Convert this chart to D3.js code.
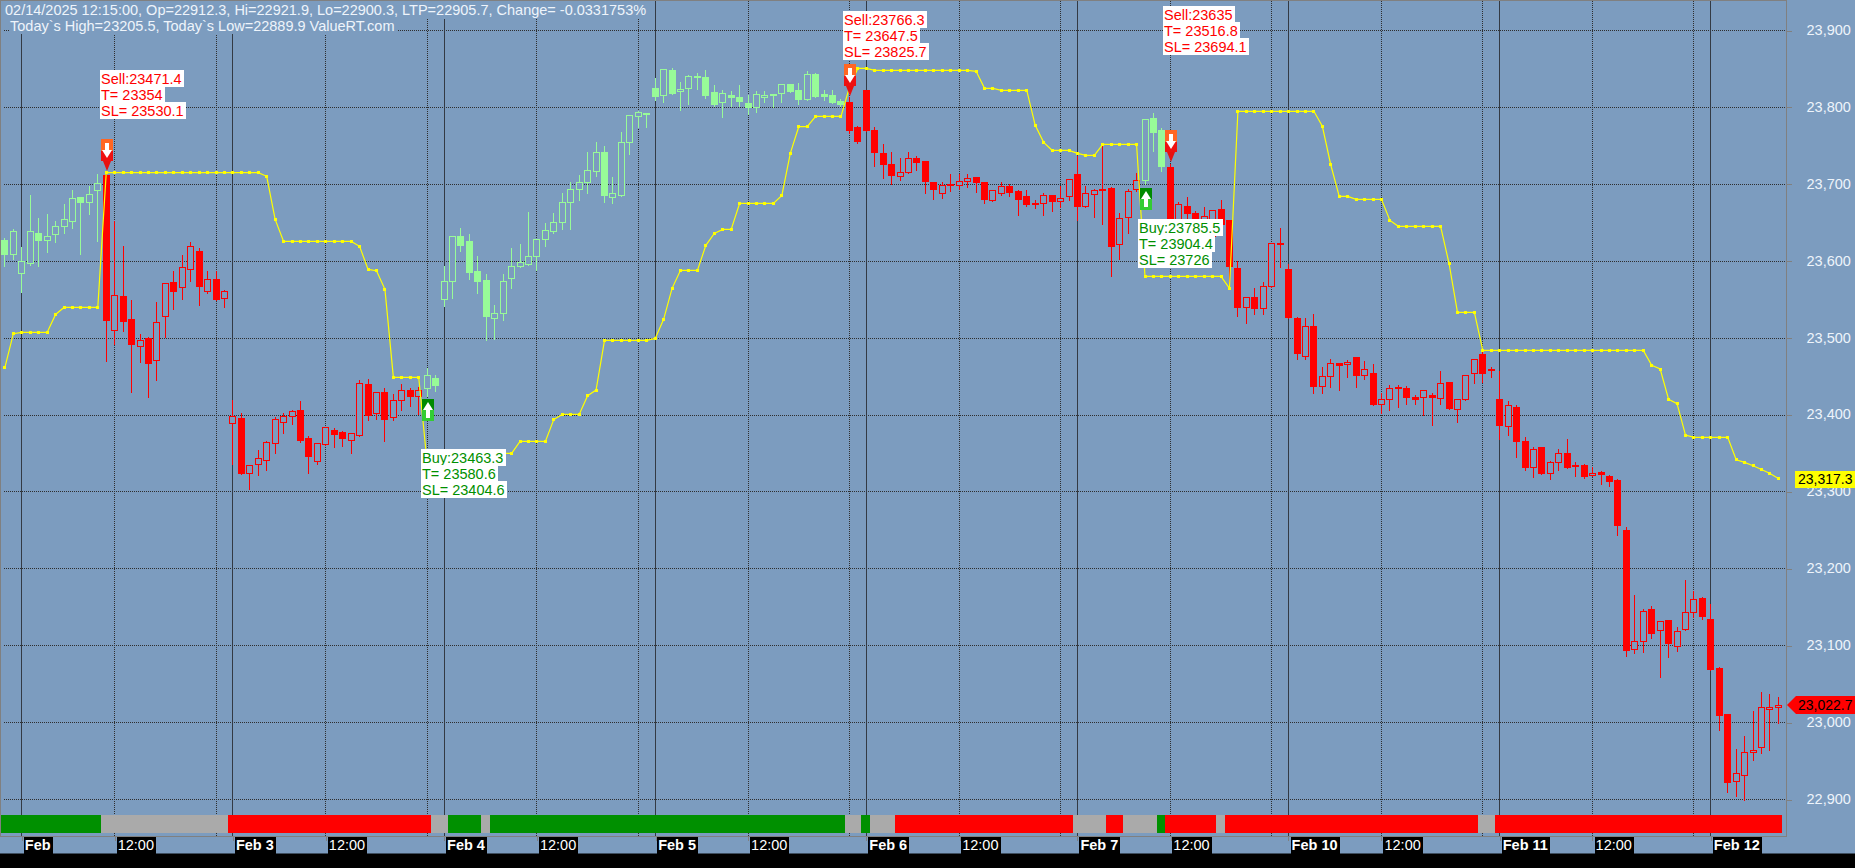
<!DOCTYPE html>
<html><head><meta charset="utf-8">
<script src="https://cdn.jsdelivr.net/npm/d3@7"></script>
<style>
html,body{margin:0;padding:0;background:#7c9cbf;overflow:hidden}
svg{display:block;font-family:"Liberation Sans",Arial,sans-serif}
</style></head><body><svg id="c" width="1855" height="868"></svg>
<script>
const opens=[23627.5,23609.3,23583.7,23597.6,23636.2,23626.7,23635.3,23644.9,23651.4,23682.2,23676.1,23691.7,23710.8,23509.6,23554.7,23524.8,23488.8,23500,23470.6,23527.8,23572.9,23565.5,23589.4,23613.2,23560.3,23576.8,23551.7,
23389.1,23396,23323.6,23335.3,23340.5,23363,23390,23397.7,23406.4,23370,23339.6,23361.3,23380.4,23377.8,23366.9,23373.5,23439.8,23402.1,23429.8,23396.4,23418.6,23431.6,23424.6,23434.6,23447.6,
23550.4,23573.3,23632.7,23625,23587.2,23575.5,23525.2,23531.7,23577.2,23592.8,23595.4,23605.9,23628.4,23638.4,23650.1,23676.1,23693,23702.1,23716.4,23742,23682.6,23685.2,23754.1,23788.4,23792.3,
23825.2,23815.3,23847.4,23820.5,23824.4,23840.4,23839.1,23819.6,23806.2,23815.7,23813.5,23805.7,23799.7,23813.1,23817,23818.3,23830,23822.2,23810.9,23843.4,23817,23815.7,23808.3,23807,23774.5,
23822.6,23770.6,23740.3,23725.1,23709.9,23715.1,23734.2,23729,23701.7,23687.8,23699.9,23698.2,23703.8,23708.2,23701.7,23678.7,23687.8,23697.3,23690.4,23684.3,23675.2,23674.8,23685.6,23677.8,23683.9,
23712.1,23670.9,23686.9,23693.4,23693.9,23621.5,23657,23693.4,23705.1,23786.2,23770.6,23721.2,23644.9,23671.7,23662.2,23640.5,23631.9,23666.6,23653.5,23590.7,23539.5,23553,23538.2,23566.8,23623.2,
23589.8,23526.1,23475.8,23515.7,23436.8,23449.8,23467.1,23465.4,23474.9,23451,23454.5,23413.8,23420.3,23436.4,23435,23423.3,23422.9,23425.9,23421.6,23442.8,23407.3,23420.3,23454.1,23479.3,23459.7,
23420.7,23384.7,23410.3,23365.7,23331.8,23358.3,23323.6,23338.4,23350.5,23334.9,23334.4,23321.4,23325.8,23320.6,23315.4,23250.3,23094.7,23105.1,23147.6,23119.4,23133.2,23099,23120.7,23142.8,23161.9,
23134.1,23070.4,23011,22923,22930.8,22960.7,22967.2,23017.1,23019.3];
const highs=[23631,23642.7,23618.9,23686.9,23657.4,23662.2,23653.5,23674.4,23693.4,23683.9,23697.8,23714.2,23716,23653.5,23621,23550.8,23506.1,23502.7,23548.2,23571.2,23588.5,23609.3,23625,23618,23588.5,23587.6,23562.9,
23420.7,23403.8,23334.4,23355.7,23367.4,23398.6,23403.8,23407.3,23419.4,23373.9,23364.4,23383.9,23383.9,23380.4,23377.8,23446.7,23447.6,23429.4,23435.5,23428.1,23441.1,23435.9,23436.8,23461.9,23452.4,
23595,23634,23644.4,23636.2,23608,23584.2,23544.3,23584.2,23618.4,23623.6,23665.2,23628.4,23649.7,23663.9,23689.1,23703,23712.1,23743.3,23756.3,23750.2,23709.5,23769.3,23789.7,23795.8,23792.3,
23839.5,23849.5,23852.1,23834.3,23843.4,23846,23849.9,23829.6,23823.9,23821.8,23830.4,23817.4,23822.6,23822.6,23818.7,23830.4,23831.3,23833,23847.4,23845.6,23823.9,23823.9,23811.8,23813.9,23776.7,
23822.6,23774.9,23753.3,23742.9,23735,23743.3,23738.1,23729,23701.7,23703,23713.4,23713.4,23713.4,23708.2,23703,23692.1,23703,23701.2,23693.4,23692.6,23679.6,23689.1,23685.6,23697.8,23706.4,
23737.7,23697.8,23693.9,23752,23696.9,23663.9,23694.7,23714.7,23784.5,23793.6,23774.5,23727.3,23677.8,23683.5,23665.3,23670.9,23666.1,23679.6,23653.5,23601.1,23553,23565.9,23574.2,23623.2,23644.4,
23597.2,23527.8,23527.4,23532.6,23463.7,23474.1,23468.9,23472.7,23474.9,23471.5,23467.5,23429.8,23440.2,23440.2,23438.9,23427.2,23431.6,23429.8,23458.4,23442.8,23420.3,23451.5,23474.1,23484.5,23463.7,
23458.4,23419.4,23414.2,23372.6,23359.6,23358.3,23341.4,23357,23370,23339.6,23336.6,23333.6,23328.4,23323.2,23317.1,23255.5,23167.1,23148.9,23152.8,23131.5,23134.6,23125.5,23186.6,23172.3,23163.6,
23155.4,23073.4,23011,22966.8,22983.7,23016.2,23040.9,23038.3,23034.4];
const lows=[23594.1,23603.3,23561.2,23596.3,23595,23613.2,23625,23637,23644,23610.6,23662.2,23627.5,23471.4,23493.1,23510.5,23430.3,23469.3,23423.8,23446.7,23502.7,23538.7,23551.2,23575.5,23544.3,23559.9,23550.8,23541.7,
23337,23324.5,23305,23323.2,23329.7,23351.8,23377,23389.1,23365.2,23325.8,23337.5,23361.3,23358.7,23360.9,23350.9,23373.5,23394.3,23395.6,23366.5,23394.7,23406.8,23412.9,23402.1,23425.9,23432.4,
23542.6,23552.5,23614.5,23578.1,23559,23498.3,23499.6,23524.8,23565.5,23592.8,23595.4,23588.9,23621,23637,23643.1,23642.3,23679.6,23689.1,23710.8,23677,23676.1,23685.2,23740.7,23775.8,23775.8,
23810.9,23808.3,23818.3,23797.1,23805.7,23825.2,23813.1,23803.1,23788.8,23803.1,23803.1,23792.7,23795.3,23808.3,23801.8,23808.3,23820.5,23805.7,23810.1,23814.8,23810.5,23807,23802.7,23767.6,23755,
23769.7,23724.2,23708.6,23700.8,23705.6,23715.1,23718.6,23689.1,23680.9,23682.6,23691.7,23694.3,23696.9,23690,23676.1,23678.7,23686.5,23685.6,23660.5,23672.6,23669.6,23660.5,23665.7,23670.9,23680.4,
23654.4,23670.9,23657.9,23649.2,23581.1,23603.3,23637,23691.7,23700.8,23743.7,23717.7,23634,23640.5,23644.9,23640.5,23636.2,23631,23644.9,23564.7,23530,23520.9,23531.7,23531.7,23566.8,23592.8,
23526.5,23473.2,23473.2,23429.8,23429,23436.8,23432.9,23450.6,23436.8,23447.2,23413.4,23403.4,23406.8,23411.6,23415.5,23415.5,23401.2,23388.2,23415.5,23408.2,23392.1,23420.3,23442.8,23444,23450.6,
23369.1,23375.2,23346.6,23329.7,23320.6,23323.6,23318,23329.7,23331.4,23321,23318.4,23321,23310.6,23308,23245.1,23087.8,23090.8,23092.1,23110.3,23060.4,23085.6,23094.3,23120.7,23137.6,23135,
23069.5,22991.5,22910.8,22905.6,22900.4,22952.5,22961.6,22965.5,23000.6];
const closes=[23609.3,23639.2,23599.8,23638.8,23626.7,23632.3,23645.3,23654.4,23681.7,23676.1,23686.9,23701.2,23523.5,23555.6,23522.2,23492.3,23497,23467.5,23520.4,23571.2,23561.2,23592,23619.3,23566.8,23576.4,23550.8,23560.8,
23398.6,23324.5,23334.4,23343.5,23364.4,23394.3,23398.6,23404.7,23366.5,23346.6,23363,23383.9,23375.2,23369.1,23376.1,23441.1,23399.9,23429.4,23393.9,23419,23431.6,23423.8,23431.6,23451,23438.9,
23573.3,23632.7,23621,23585,23574.2,23527.8,23532.1,23573.8,23593.3,23598.5,23606.3,23628.4,23640.1,23650.5,23676.5,23693.4,23702.5,23718.1,23741.6,23684.8,23688.2,23754.6,23789.7,23793.6,23790.6,
23814.8,23849.5,23818.7,23823.5,23840.4,23838.7,23815.3,23804.4,23818.3,23812.7,23808.3,23799.7,23817,23815.3,23815.3,23830,23821.3,23810.9,23843,23814.8,23814.8,23807,23804,23769.7,23756.3,
23769.7,23741.1,23725.5,23711.2,23715.5,23733.8,23728.1,23703.4,23693,23698.6,23698.2,23703.8,23707.7,23702.1,23680,23692.1,23697.3,23689.1,23679.6,23673.5,23673.9,23685.6,23677.8,23681.7,23706.4,
23670.5,23688.2,23692.1,23691.7,23618.9,23655.7,23690.8,23705.1,23784.5,23768,23722.5,23636.2,23673.9,23661.8,23644.9,23657.9,23666.1,23648.3,23592.8,23539.5,23553,23538.2,23567.3,23623.2,23622.3,
23526.5,23479.7,23515.2,23437.6,23450.2,23467.1,23464.1,23468.4,23451,23459.3,23413.4,23420.3,23434.6,23434.2,23422.5,23419.9,23431.6,23422.5,23441.1,23408.2,23420.3,23451.5,23472.3,23453.7,23457.6,
23386,23412.5,23365.2,23331.4,23355.3,23323.6,23338.4,23350,23332.3,23333.1,23319.7,23324,23322.3,23313.2,23256,23094.3,23105.5,23144.6,23116.4,23131.5,23103.4,23118.5,23143.3,23160.2,23137.6,
23069.5,23009.7,22921.7,22933.8,22961.2,22963.8,23019.7,23019.7,23022.7];
const stopLine=[23461.9,23505.7,23507.4,23507.4,23507.4,23507.4,23530.8,23539.9,23539.9,23539.9,23539.9,23539.9,
23715.1,23715.1,23715.1,23715.1,23715.1,23715.1,23715.1,23715.1,23715.1,23715.1,23715.1,23715.1,23715.1,23715.1,23715.1,
23715.1,23715.1,23715.1,23715.1,23710.4,23654.4,23625.8,23625.8,23625.8,23625.8,23625.8,23625.8,23625.8,23625.8,23625.8,23619.3,23589.4,23587.6,23563.4,23448.9,23448.9,23448.9,23448.9,23337,23337,
23337,23337,23337,23337,23350,23350,23350,23350,23350,23365.7,23365.7,23365.7,23365.7,23394.3,23400.8,23400.8,23400.8,23425,23432.4,23497,23497,23497,23497,23497,23497,
23499.6,23524.4,23564.7,23588.1,23588.1,23588.1,23620.6,23636.2,23641.4,23641.4,23675.2,23675.2,23675.2,23675.2,23675.2,23685.6,23740.3,23774.9,23774.9,23788.4,23788.4,23788.4,23788.4,23826.1,23850.8,
23850.8,23848.2,23848.2,23848.2,23848.2,23848.2,23848.2,23848.2,23848.2,23848.2,23848.2,23848.2,23848.2,23846.9,23824.8,23824.8,23822.2,23822.2,23822.2,23822.2,23776.7,23754.6,23744.2,23744.2,23744.2,
23740.3,23737.6,23737.6,23752,23752,23752,23752,23752,23580.3,23580.3,23580.3,23580.3,23580.3,23580.3,23580.3,23580.3,23580.3,23580.3,23564.7,23794.9,23794.9,23794.9,23794.9,23794.9,23794.9,
23794.9,23794.9,23794.9,23794.9,23775.4,23725.1,23684.3,23684.3,23680.4,23680.4,23680.4,23680.4,23653.1,23645.3,23645.3,23645.3,23645.3,23645.3,23645.3,23597.2,23533.4,23533.4,23533.4,23484,23484,
23484,23484,23484,23484,23484,23484,23484,23484,23484,23484,23484,23484,23484,23484,23484,23484,23484,23484,23464.5,23459.8,23420.3,23414.7,23373.9,23370.9,23370.9,
23370.9,23370.9,23370.9,23341.8,23338.4,23334,23329.2,23324,23317.3];
const candleSideRuns=[["up",12],["down",38],["up",50],["down",35],["up",3],["down",73]];
const stateRuns=[["buy",12],["flat",15],["sell",24],["flat",2],["buy",4],["flat",1],["buy",42],["flat",2],["buy",1],["flat",3],["sell",21],["flat",4],["sell",2],["flat",4],["buy",1],["sell",6],["flat",1],["sell",30],["flat",2],["sell",34]];
const signals=[
 {i:12,kind:"Sell",price:"23471.4",target:"23354",stop:"23530.1"},
 {i:50,kind:"Buy",price:"23463.3",target:"23580.6",stop:"23404.6"},
 {i:100,kind:"Sell",price:"23766.3",target:"23647.5",stop:"23825.7"},
 {i:135,kind:"Buy",price:"23785.5",target:"23904.4",stop:"23726"},
 {i:138,kind:"Sell",price:"23635",target:"23516.8",stop:"23694.1"}];
const signalLabelTops=[70,449,11,219,6];
const signalLabelShift=[-6,-6,-6,-7,-7];
const priceTicks=[23900,23800,23700,23600,23500,23400,23300,23200,23100,23000,22900];
const dayTicks=[2,27,52,77,102,127,152,177,202];
const dayLabels=["Feb","Feb 3","Feb 4","Feb 5","Feb 6","Feb 7","Feb 10","Feb 11","Feb 12"];
const noonTicks=[13,38,63,88,113,138,163,188];
const quarterLines=[25,50,75,100,125,150,175,200];
const header1="02/14/2025 12:15:00, Op=22912.3, Hi=22921.9, Lo=22900.3, LTP=22905.7, Change= -0.0331753%";
const header2="Today`s High=23205.5, Today`s Low=22889.9 ValueRT.com";
const lastClose=23022.7, lastStop=23317.3;

const BG="#7c9cbf", GRID="#2e2e2e", TXT="#eef4fb", UP="#98fb98", DOWN="#ff0000";
const FS=14.5;
const plotR=1786, axisY=836, bandY=853.5, W=1855, H=868;
const x=d3.scaleLinear().domain([0,210]).range([4.4,1777.9]);
const y=d3.scaleLinear().domain([22900,23900]).range([799.5,30.5]);
const px=i=>Math.round(x(i))+0.5;
const py=v=>Math.round(y(v)-0.5)+0.5;
const fmt=d3.format(",");

const sides=candleSideRuns.flatMap(([s,n])=>d3.range(n).map(()=>s));
const states=[];stateRuns.forEach(([s,n])=>{const start=states.length?states[states.length-1].end:0;states.push({s,start,end:start+n});});
const bars=opens.map((o,i)=>({i,o,h:highs[i],l:lows[i],c:closes[i],side:sides[i]}));

const svg=d3.select("#c");
svg.append("rect").attr("width",W).attr("height",H).attr("fill",BG);

// grid
const grid=svg.append("g").attr("shape-rendering","crispEdges");
grid.selectAll(".h").data(priceTicks).join("line")
 .attr("x1",4).attr("x2",plotR).attr("y1",d=>py(d)).attr("y2",d=>py(d))
 .attr("stroke",GRID).attr("stroke-dasharray","1 1");
grid.selectAll(".n").data(noonTicks.concat(quarterLines)).join("line")
 .attr("x1",d=>px(d)).attr("x2",d=>px(d)).attr("y1",1).attr("y2",axisY)
 .attr("stroke",GRID).attr("stroke-dasharray","1 1");
grid.selectAll(".d").data(dayTicks).join("line")
 .attr("x1",d=>px(d)).attr("x2",d=>px(d)).attr("y1",1).attr("y2",axisY)
 .attr("stroke","#333a44");

// frame
const frame=svg.append("g").attr("shape-rendering","crispEdges");
frame.append("rect").attr("x",0).attr("y",0).attr("width",plotR+0.5).attr("height",1).attr("fill","#808080");
frame.append("rect").attr("x",0).attr("y",0).attr("width",1).attr("height",axisY).attr("fill","#808080");
frame.append("rect").attr("x",plotR).attr("y",0).attr("width",1).attr("height",axisY+1).attr("fill","#808080");

// state strip
const stripX=i=>Math.max(1,Math.round(x(i)-4.4));
svg.append("g").attr("shape-rendering","crispEdges").selectAll("rect").data(states).join("rect")
 .attr("x",d=>stripX(d.start)).attr("width",d=>stripX(d.end)-stripX(d.start))
 .attr("y",815).attr("height",18)
 .attr("fill",d=>d.s==="buy"?"#009000":d.s==="sell"?"#ff0000":"#aaaaaa");

// candles
const cg=svg.append("g").attr("shape-rendering","crispEdges");
const col=d=>d.side==="up"?UP:DOWN;
cg.selectAll(".w").data(bars).join("line")
 .attr("x1",d=>px(d.i)).attr("x2",d=>px(d.i)).attr("y1",d=>py(d.h)).attr("y2",d=>py(d.l)+1)
 .attr("stroke",col);
cg.selectAll(".b").data(bars).join("rect")
 .attr("x",d=>px(d.i)-3).attr("width",6)
 .attr("y",d=>py(Math.max(d.o,d.c)))
 .attr("height",d=>Math.max(1,py(Math.min(d.o,d.c))-py(Math.max(d.o,d.c))))
 .attr("fill",d=>d.c>d.o?BG:col(d)).attr("stroke",col);

// stop line
const line=d3.line().x((d,i)=>x(i)+0.5).y(d=>y(d));
svg.append("path").attr("d",line(stopLine)).attr("fill","none").attr("stroke","#ffff00").attr("stroke-width",1.2);
svg.append("g").attr("shape-rendering","crispEdges").selectAll("rect").data(stopLine).join("rect")
 .attr("x",(d,i)=>px(i)-1.5).attr("y",d=>py(d)-1.5).attr("width",3).attr("height",3).attr("fill","#ffff00");

// signals
signals.forEach(s=>{
 const cx=Math.round(x(s.i))+1, g=svg.append("g");
 if(s.kind==="Sell"){
  const tip=Math.round(y(highs[s.i]))-1, top=tip-32;
  g.append("rect").attr("x",cx-6).attr("y",top).attr("width",12).attr("height",12).attr("fill","#ff6622");
  g.append("rect").attr("x",cx-6).attr("y",top+12).attr("width",12).attr("height",10).attr("fill","#ee1111");
  g.append("path").attr("d",`M${cx-4},${top+22}H${cx+4}L${cx},${tip}Z`).attr("fill","#e81010");
  g.append("path").attr("d",`M${cx-2},${top+4}H${cx+2}V${top+11}H${cx+5}L${cx},${top+19}L${cx-5},${top+11}H${cx-2}Z`).attr("fill","#fff");
 } else {
  const top=Math.round(y(lows[s.i]))+4;
  g.append("rect").attr("x",cx-6).attr("y",top).attr("width",12).attr("height",11).attr("fill","#008a00");
  g.append("rect").attr("x",cx-6).attr("y",top+11).attr("width",12).attr("height",11).attr("fill","#33cc33");
  g.append("path").attr("d",`M${cx},${top+3}L${cx+5},${top+11}H${cx+2}V${top+19}H${cx-2}V${top+11}H${cx-5}Z`).attr("fill","#fff");
 }
});
signals.forEach((s,k)=>{
 const color=s.kind==="Sell"?"#ff0000":"#008f00";
 const left=Math.round(x(s.i))+signalLabelShift[k], top=signalLabelTops[k];
 const lines=[`${s.kind}:${s.price}`,`T= ${s.target}`,`SL= ${s.stop}`];
 const g=svg.append("g");
 lines.forEach((t,j)=>{
  const r=g.append("rect").attr("fill","#fff");
  const tx=g.append("text").attr("x",left+1).attr("y",top+14+16*j).attr("font-size",FS).attr("fill",color).text(t);
  const w=tx.node().getComputedTextLength();
  r.attr("x",left).attr("y",top+16*j).attr("width",Math.ceil(w)+3).attr("height",17).attr("shape-rendering","crispEdges");
 });
});

// header
[[header1,5,15,0,18],[header2,10,31,18,15]].forEach(([t,tx,ty,by,bh])=>{
 const r=svg.append("rect").attr("fill",BG).attr("shape-rendering","crispEdges");
 const n=svg.append("text").attr("x",tx).attr("y",ty).attr("font-size",FS).attr("fill",TXT).text(t);
 const w=n.node().getComputedTextLength();
 r.attr("x",tx-1).attr("y",by+1).attr("width",w+3).attr("height",bh);
});

// right axis
const yAxis=svg.append("g").attr("transform",`translate(${plotR+0.5},0)`)
 .call(d3.axisRight(y).tickValues(priceTicks).tickFormat(fmt).tickSize(5).tickPadding(15));
yAxis.select(".domain").remove();
yAxis.selectAll("line").attr("stroke","#808080").attr("shape-rendering","crispEdges");
yAxis.selectAll("text").attr("font-family","inherit").attr("font-size",FS).attr("fill",TXT).attr("dy","0.27em");

// bottom axis
const tickName=new Map([...dayTicks.map((d,i)=>[d,dayLabels[i]]),...noonTicks.map(d=>[d,"12:00"])]);
const xAxis=svg.append("g").attr("transform",`translate(0,${axisY})`)
 .call(d3.axisBottom(x).tickValues([...tickName.keys()].sort((a,b)=>a-b)).tickFormat(d=>tickName.get(d)).tickSize(5).tickPadding(0));
xAxis.select(".domain").remove();
svg.append("rect").attr("x",0).attr("y",axisY-0.5).attr("width",plotR+1).attr("height",1).attr("fill","#808080").attr("shape-rendering","crispEdges");
xAxis.selectAll("line").attr("stroke","#808080").attr("shape-rendering","crispEdges").attr("x1",d=>px(d)-x(d)).attr("x2",d=>px(d)-x(d));
xAxis.selectAll(".tick").each(function(d){
 const t=d3.select(this).select("text");
 const isDay=dayTicks.includes(d);
 t.attr("font-family","inherit").attr("text-anchor","start").attr("font-size",FS)
  .attr("font-weight",isDay?"bold":"normal").attr("fill","#fff").attr("x",3).attr("y",0).attr("dy",14);
 const w=t.node().getComputedTextLength();
 d3.select(this).insert("rect","text").attr("x",2).attr("y",1).attr("width",w+3).attr("height",16.5).attr("fill","#000").attr("shape-rendering","crispEdges");
});
svg.append("rect").attr("x",0).attr("y",bandY).attr("width",W).attr("height",H-bandY).attr("fill","#000");

// last value tags
const stopTag=svg.append("g");
stopTag.append("rect").attr("x",1795).attr("y",Math.round(y(lastStop))-8).attr("width",60).attr("height",17).attr("fill","#ffff00").attr("shape-rendering","crispEdges");
stopTag.append("text").attr("x",1798).attr("y",y(lastStop)+5).attr("font-size",14).attr("fill","#000").text(d3.format(",.1f")(lastStop));
const ct=Math.round(y(lastClose));
const closeTag=svg.append("g");
closeTag.append("path").attr("d",`M1787,${ct}L1796,${ct-9}H1855V${ct+9}H1796Z`).attr("fill","#ff0000");
closeTag.append("text").attr("x",1798).attr("y",ct+5).attr("font-size",14).attr("fill","#000").text(d3.format(",.1f")(lastClose));
</script></body></html>
